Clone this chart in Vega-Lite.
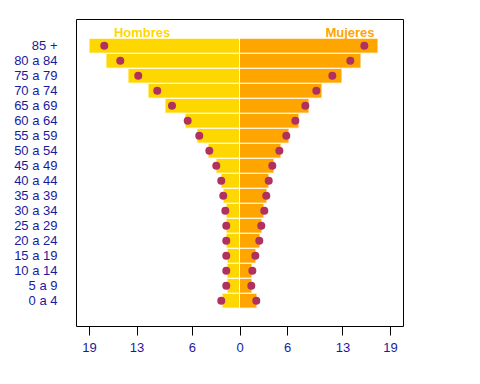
{
  "$schema": "https://vega.github.io/schema/vega-lite/v6.json",
  "autosize": "none",
  "width": 327,
  "height": 307,
  "padding": {"left": 76, "top": 19, "right": 77, "bottom": 58},
  "background": "white",
  "config": {
    "view": {"stroke": "black", "strokeWidth": 1},
    "font": "Liberation Sans",
    "axis": {"grid": false}
  },
  "data": {
    "values": [
      {"edad": "0 a 4", "idx": 1, "h": -2.21, "hp": -2.30, "m": 2.21, "mp": 2.12},
      {"edad": "5 a 9", "idx": 2, "h": -1.58, "hp": -1.67, "m": 1.58, "mp": 1.49},
      {"edad": "10 a 14", "idx": 3, "h": -1.58, "hp": -1.67, "m": 1.58, "mp": 1.62},
      {"edad": "15 a 19", "idx": 4, "h": -1.58, "hp": -1.67, "m": 2.08, "mp": 2.00},
      {"edad": "20 a 24", "idx": 5, "h": -1.70, "hp": -1.67, "m": 2.59, "mp": 2.50},
      {"edad": "25 a 29", "idx": 6, "h": -1.70, "hp": -1.67, "m": 2.84, "mp": 2.75},
      {"edad": "30 a 34", "idx": 7, "h": -1.70, "hp": -1.79, "m": 3.09, "mp": 3.13},
      {"edad": "35 a 39", "idx": 8, "h": -2.08, "hp": -2.05, "m": 3.47, "mp": 3.38},
      {"edad": "40 a 44", "idx": 9, "h": -2.34, "hp": -2.30, "m": 3.72, "mp": 3.69},
      {"edad": "45 a 49", "idx": 10, "h": -2.97, "hp": -2.93, "m": 4.36, "mp": 4.14},
      {"edad": "50 a 54", "idx": 11, "h": -3.98, "hp": -3.81, "m": 5.24, "mp": 5.03},
      {"edad": "55 a 59", "idx": 12, "h": -5.37, "hp": -5.08, "m": 6.25, "mp": 5.91},
      {"edad": "60 a 64", "idx": 13, "h": -6.88, "hp": -6.54, "m": 7.51, "mp": 7.05},
      {"edad": "65 a 69", "idx": 14, "h": -9.41, "hp": -8.52, "m": 8.78, "mp": 8.31},
      {"edad": "70 a 74", "idx": 15, "h": -11.55, "hp": -10.38, "m": 10.42, "mp": 9.70},
      {"edad": "75 a 79", "idx": 16, "h": -14.08, "hp": -12.78, "m": 12.94, "mp": 11.72},
      {"edad": "80 a 84", "idx": 17, "h": -16.86, "hp": -15.05, "m": 15.34, "mp": 13.99},
      {"edad": "85 +", "idx": 18, "h": -19.0, "hp": -17.07, "m": 17.49, "mp": 15.76}
    ]
  },
  "encoding": {
    "y": {
      "field": "idx",
      "type": "quantitative",
      "scale": {"domain": [-0.69, 19.78], "nice": false, "zero": false, "padding": 0},
      "axis": {
        "title": null,
        "values": [1, 2, 3, 4, 5, 6, 7, 8, 9, 10, 11, 12, 13, 14, 15, 16, 17, 18],
        "labelExpr": "['', '0 a 4', '5 a 9', '10 a 14', '15 a 19', '20 a 24', '25 a 29', '30 a 34', '35 a 39', '40 a 44', '45 a 49', '50 a 54', '55 a 59', '60 a 64', '65 a 69', '70 a 74', '75 a 79', '80 a 84', '85 +'][datum.value]",
        "domain": false,
        "ticks": false,
        "labelPadding": 19,
        "labelFontSize": 13,
        "labelColor": "#1A1AA0",
        "labelFont": "Liberation Sans"
      }
    }
  },
  "layer": [
    {
      "mark": {"type": "bar", "orient": "horizontal", "size": 15, "fill": "#FFD700", "stroke": "white", "strokeWidth": 1},
      "encoding": {
        "x": {
          "field": "h",
          "type": "quantitative",
          "scale": {"domain": [-20.64, 20.64], "nice": false, "zero": false, "padding": 0},
          "axis": {
            "title": null,
            "values": [-19, -13, -6, 0, 6, 13, 19],
            "labelExpr": "format(abs(datum.value), 'd')",
            "domain": false,
            "tickSize": 9,
            "tickColor": "black",
            "labelPadding": 6,
            "labelFontSize": 13,
            "labelColor": "#1A1AA0",
            "labelFont": "Liberation Sans"
          }
        },
        "x2": {"datum": 0}
      }
    },
    {
      "mark": {"type": "bar", "orient": "horizontal", "size": 15, "fill": "#FFA500", "stroke": "white", "strokeWidth": 1},
      "encoding": {
        "x": {"field": "m", "type": "quantitative"},
        "x2": {"datum": 0}
      }
    },
    {
      "mark": {"type": "point", "filled": true, "size": 64, "color": "#B03060", "opacity": 1},
      "encoding": {
        "x": {"field": "hp", "type": "quantitative"}
      }
    },
    {
      "mark": {"type": "point", "filled": true, "size": 64, "color": "#B03060", "opacity": 1},
      "encoding": {
        "x": {"field": "mp", "type": "quantitative"}
      }
    },
    {
      "transform": [{"filter": "datum.idx == 18"}],
      "mark": {"type": "text", "fontWeight": "bold", "fontSize": 13, "font": "Liberation Sans", "fill": "#FFD700", "baseline": "alphabetic", "align": "center"},
      "encoding": {
        "x": {"datum": -12.3, "type": "quantitative"},
        "y": {"datum": 18.58, "type": "quantitative"},
        "text": {"value": "Hombres"}
      }
    },
    {
      "transform": [{"filter": "datum.idx == 18"}],
      "mark": {"type": "text", "fontWeight": "bold", "fontSize": 13, "font": "Liberation Sans", "fill": "#FFA500", "baseline": "alphabetic", "align": "center"},
      "encoding": {
        "x": {"datum": 13.95, "type": "quantitative"},
        "y": {"datum": 18.58, "type": "quantitative"},
        "text": {"value": "Mujeres"}
      }
    }
  ]
}
